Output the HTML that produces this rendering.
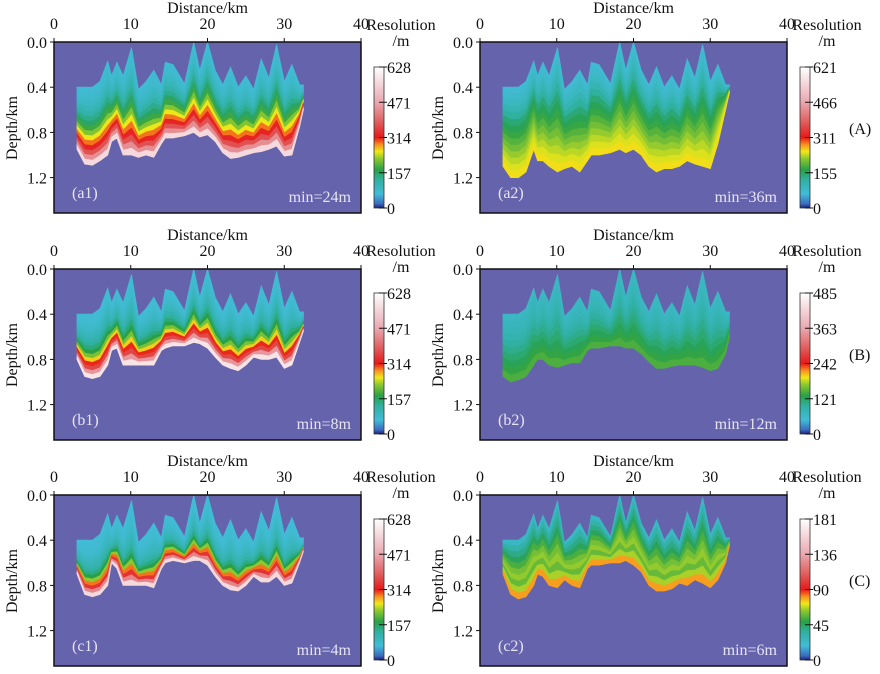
<!DOCTYPE html>
<html><head><meta charset="utf-8">
<style>
html,body{margin:0;padding:0;background:#fff;}
svg{display:block;}
svg text{font-family:"Liberation Serif","DejaVu Serif",serif;}
</style></head>
<body>
<svg id="fig" width="880" height="674" viewBox="0 0 880 674" xmlns="http://www.w3.org/2000/svg"></svg>
<script>
// ---- data ----
const distances = [3,4,5,6,7,7.5,8.2,9,10.1,11,12,13,14,14.5,15.5,17,18.2,19,20,21,22,23,24,25,26,27,28,29,30,31,32,32.5];
const topDepth  = [0.40,0.40,0.40,0.35,0.17,0.30,0.18,0.30,0.05,0.42,0.35,0.25,0.38,0.18,0.20,0.37,0.0,0.25,0.0,0.25,0.38,0.22,0.40,0.30,0.42,0.15,0.32,0.02,0.35,0.20,0.38,0.38];
const bottomA1 = [0.95,1.08,1.09,1.05,1.0,0.88,0.85,1.0,1.0,1.02,1.0,1.02,0.9,0.85,0.85,0.83,0.8,0.84,0.82,0.88,0.98,1.03,1.02,1.0,0.98,0.97,0.95,0.92,1.01,1.0,0.75,0.6];
const bottomB1 = [0.8,0.95,0.97,0.95,0.85,0.72,0.7,0.85,0.85,0.85,0.85,0.85,0.72,0.7,0.68,0.68,0.65,0.66,0.7,0.78,0.85,0.88,0.9,0.85,0.78,0.8,0.8,0.78,0.88,0.85,0.65,0.55];
const bottomC1 = [0.7,0.88,0.9,0.88,0.8,0.6,0.65,0.8,0.8,0.8,0.8,0.82,0.65,0.6,0.58,0.6,0.58,0.58,0.62,0.72,0.8,0.84,0.85,0.8,0.72,0.77,0.77,0.72,0.8,0.78,0.6,0.5];
const bottomA2 = [1.1,1.2,1.2,1.15,0.95,1.05,1.05,1.1,1.15,1.12,1.1,1.15,1.05,1.0,1.0,0.98,0.95,0.98,0.95,1.0,1.1,1.15,1.12,1.12,1.1,1.05,1.08,1.1,1.12,0.9,0.6,0.45];
const bottomB2 = [0.95,1.0,0.98,0.95,0.85,0.8,0.8,0.85,0.87,0.85,0.83,0.83,0.72,0.7,0.7,0.68,0.68,0.7,0.7,0.75,0.82,0.88,0.88,0.86,0.85,0.85,0.85,0.87,0.9,0.88,0.75,0.6];
const bottomC2 = [0.7,0.88,0.92,0.9,0.8,0.7,0.72,0.8,0.82,0.75,0.8,0.82,0.65,0.62,0.62,0.6,0.6,0.58,0.62,0.68,0.8,0.85,0.85,0.83,0.78,0.8,0.75,0.78,0.82,0.75,0.6,0.45];
const bandsA1 = [70,72,78,88,100,115,135,155,180,215,250,290,325,370,440,560];
const bandsB1 = [68,70,74,80,88,98,110,125,145,170,210,260,310,360,450,580];
const bandsC1 = [65,67,70,74,80,88,96,106,120,140,170,220,290,340,430,560];
const bandsA2 = [70,78,90,105,125,145,160,175,190,205,220,232,242,252];
const bandsB2 = [68,72,78,85,95,105,115,125,135,145];
const bandsC2 = [25,33,40,46,54,60,64,58,66,80];
const maxA1=628, maxB1=628, maxC1=628, maxA2=621, maxB2=485, maxC2=181;
const ticksA1=["0","157","314","471","628"], ticksA2=["0","155","311","466","621"];
const ticksB2=["0","121","242","363","485"], ticksC2=["0","45","90","136","181"];
const xTicks=[0,10,20,30,40];
const yTicks=[0.0,0.4,0.8,1.2];

// ---- colormap ----
const cmStops=[[0,'#1e1e78'],[0.03,'#3a6cc0'],[0.1,'#42bcd8'],[0.2,'#30b0a0'],[0.27,'#28a048'],[0.35,'#8cc830'],[0.4,'#f0e818'],[0.45,'#f89020'],[0.5,'#e81818'],[0.6,'#e05858'],[0.75,'#e8a8b0'],[1,'#ffffff']];
function hex(c){return [parseInt(c.substr(1,2),16),parseInt(c.substr(3,2),16),parseInt(c.substr(5,2),16)];}
function cmap(t){t=Math.max(0,Math.min(1,t));for(let i=1;i<cmStops.length;i++){if(t<=cmStops[i][0]){const a=cmStops[i-1],b=cmStops[i];const f=(t-a[0])/(b[0]-a[0]);const A=hex(a[1]),B=hex(b[1]);return 'rgb('+A.map((v,k)=>Math.round(v+(B[k]-v)*f)).join(',')+')';}}return '#fff';}

const NS='http://www.w3.org/2000/svg';
const svg=document.getElementById('fig');
function el(tag,attrs,parent){const e=document.createElementNS(NS,tag);for(const k in attrs)e.setAttribute(k,attrs[k]);(parent||svg).appendChild(e);return e;}
function txt(s,x,y,attrs,parent){const t=el('text',Object.assign({x:x,y:y,'font-size':16,fill:'#111','font-family':'Liberation Serif, serif'},attrs||{}),parent);t.textContent=s;return t;}

const panels=[
 {id:'a1',col:0,row:0,bottom:bottomA1,bands:bandsA1,max:maxA1,ticks:ticksA1,min:'min=24m'},
 {id:'a2',col:1,row:0,bottom:bottomA2,bands:bandsA2,max:maxA2,ticks:ticksA2,min:'min=36m',tag:'(A)'},
 {id:'b1',col:0,row:1,bottom:bottomB1,bands:bandsB1,max:maxB1,ticks:ticksA1,min:'min=8m'},
 {id:'b2',col:1,row:1,bottom:bottomB2,bands:bandsB2,max:maxB2,ticks:ticksB2,min:'min=12m',tag:'(B)'},
 {id:'c1',col:0,row:2,bottom:bottomC1,bands:bandsC1,max:maxC1,ticks:ticksA1,min:'min=4m'},
 {id:'c2',col:1,row:2,bottom:bottomC2,bands:bandsC2,max:maxC2,ticks:ticksC2,min:'min=6m',tag:'(C)'}
];
const rowOff=[0,227,453];
const defs=el('defs',{});
panels.forEach(p=>{
  const X0=p.col?480:54, W=307, Y0=42+rowOff[p.row], H=171;
  const sx=d=>X0+d*W/40, sy=z=>Y0+z*113;
  const g=el('g',{});
  
  
  const bg=el('rect',{x:X0,y:Y0,width:W,height:H,fill:'#6563ac'},g);
  
  
  const n=p.bands.length;
  for(let b=0;b<n;b++){
    const f0=b/n,f1=(b+1)/n;let pts=[];
    distances.forEach((d,i)=>{pts.push(sx(d).toFixed(1)+','+sy(topDepth[i]+(p.bottom[i]-topDepth[i])*f0).toFixed(1));});
    for(let i=distances.length-1;i>=0;i--){pts.push(sx(distances[i]).toFixed(1)+','+sy(topDepth[i]+(p.bottom[i]-topDepth[i])*f1).toFixed(1));}
    const c=cmap(p.bands[b]/p.max);
    const poly=el('polygon',{points:pts.join(' '),fill:c,stroke:c,'stroke-width':0.8},g);
    
    
  }
  el('rect',{x:X0,y:Y0,width:W,height:H,fill:'none',stroke:'#111','stroke-width':1.5},g);
  const xt=txt('Distance/km',X0+W/2,Y0-29,{'text-anchor':'middle'},g);
  
  xTicks.forEach(v=>{el('line',{x1:sx(v),x2:sx(v),y1:Y0,y2:Y0-4,stroke:'#111'},g);const t=txt(String(v),sx(v),Y0-13,{'text-anchor':'middle'},g);});
  yTicks.forEach(v=>{el('line',{x1:X0,x2:X0-4,y1:sy(v),y2:sy(v),stroke:'#111'},g);const t=txt(v.toFixed(1),X0-7,sy(v)+6,{'text-anchor':'end'},g);});
  const yl=txt('Depth/km',0,0,{'text-anchor':'middle',transform:'translate('+(X0-37)+','+(Y0+86)+') rotate(-90)'},g);
  
  const lab=txt('('+p.id+')',X0+18,Y0+156,{fill:'#e6e4f4'},g);
  
  const mn=txt(p.min,X0+W-10,Y0+160,{fill:'#e6e4f4','text-anchor':'end'},g);
  
  const CX=p.col?800:374, CT=67+rowOff[p.row]-(p.row?1:0), CB=CT+141;
  const gid='cb'+p.id;const lg=el('linearGradient',{id:gid,x1:0,y1:1,x2:0,y2:0},defs);
  cmStops.forEach(s=>el('stop',{offset:s[0],'stop-color':s[1]},lg));
  const cb=el('rect',{x:CX,y:CT,width:10,height:CB-CT,fill:'url(#'+gid+')',stroke:'#333','stroke-width':0.8},g);
  
  p.ticks.forEach((s,i)=>{const y=CB-(CB-CT)*i/4;el('line',{x1:CX+5,x2:CX+13,y1:y,y2:y,stroke:'#111'},g);const t=txt(s,CX+13,y+6,{},g);});
  const ct=txt('Resolution',CX+27,CT-37,{'text-anchor':'middle'},g);
  const cu=txt('/m',CX+27,CT-21,{'text-anchor':'middle'},g);
  if(p.tag){const tg=txt(p.tag,CX+49,CT+67,{},g);}
});
</script>
</body></html>
